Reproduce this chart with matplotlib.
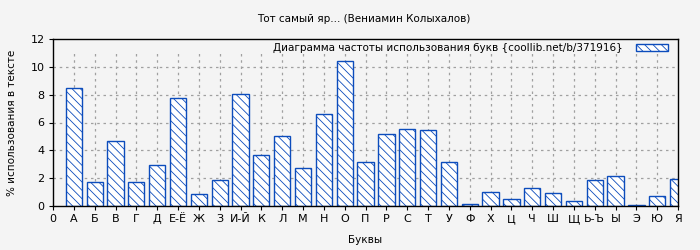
import matplotlib
matplotlib.use('Agg')
import matplotlib.pyplot as plt
import numpy as np

# letters and their share in the text, %
letters = ['0', 'А', 'Б', 'В', 'Г', 'Д', 'Е-Ё', 'Ж', 'З', 'И-Й', 'К', 'Л', 'М', 'Н', 'О',
           'П', 'Р', 'С', 'Т', 'У', 'Ф', 'Х', 'Ц', 'Ч', 'Ш', 'Щ', 'Ь-Ъ', 'Ы', 'Э', 'Ю', 'Я']
freq = [None, 8.48, 1.72, 4.67, 1.72, 2.95, 7.76, 0.86, 1.87, 8.05, 3.66, 5.03, 2.73, 6.61, 10.42,
        3.16, 5.17, 5.53, 5.46, 3.16, 0.14, 1.01, 0.50, 1.29, 0.93, 0.36, 1.87, 2.16, 0.07, 0.72, 1.94]
y_ticks = [0, 2, 4, 6, 8, 10, 12]

title = 'Тот самый яр... (Вениамин Колыхалов)'
legend_label = 'Диаграмма частоты использования букв {coollib.net/b/371916}'

blue = '#0c4cbc'
bg = '#f4f4f4'

plt.rcParams['font.family'] = 'DejaVu Sans'
plt.rcParams['font.size'] = 7.5
plt.rcParams['hatch.linewidth'] = 0.6
plt.rcParams['hatch.color'] = blue

fig = plt.figure(figsize=(7, 2.5), dpi=100, facecolor=bg)
ax = fig.add_axes([0.0757, 0.176, 0.893, 0.668], facecolor=bg)

x = np.arange(len(letters))
x_bars = x[1:]
vals = np.array(freq[1:], dtype=float)

# dotted grid; vertical lines stop below the legend strip
ax.hlines(y_ticks[1:-1], 0, len(letters) - 1, colors='#a0a0a0', linestyles=(0, (2, 3)),
          linewidth=0.9, zorder=1)
ax.vlines(x[1:-1], 0, 11, colors='#a0a0a0', linestyles=(0, (2, 3)), linewidth=0.9, zorder=1)

ax.bar(x_bars, vals, width=0.78, facecolor='white', edgecolor=blue, linewidth=1.0,
       hatch='\\\\\\\\', zorder=2, label=legend_label)

ax.set_xlim(0, len(letters) - 1)
ax.set_ylim(0, 12)
ax.set_xticks(x)
ax.set_xticklabels(letters)
ax.set_yticks(y_ticks)
ax.tick_params(length=3, width=0.8, pad=3, labelsize=8)

for s in ax.spines.values():
    s.set_linewidth(1)
    s.set_zorder(3)

ax.set_xlabel('Буквы', labelpad=8)
ax.set_ylabel('% использования в тексте', labelpad=10)
fig.text(0.52, 0.922, title, ha='center', va='center', fontsize=7.5)

ax.legend(loc='upper right', bbox_to_anchor=(0.99, 1.0), frameon=False, markerfirst=False,
          handlelength=3.0, handleheight=0.6, borderaxespad=0, handletextpad=1.3, fontsize=7.5)

fig.savefig('out.png', dpi=100, facecolor=bg)
